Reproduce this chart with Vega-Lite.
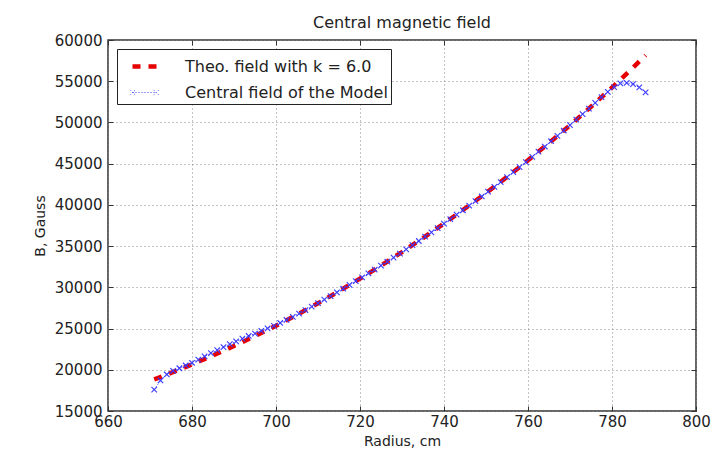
{
  "$schema": "https://vega.github.io/schema/vega-lite/v6.json",
  "width": 588,
  "height": 371,
  "autosize": {"type": "none"},
  "padding": {"left": 108, "top": 40, "right": 21, "bottom": 49},
  "background": "white",
  "title": {"text": "Central magnetic field", "fontSize": 16, "fontWeight": "normal", "color": "#222", "offset": 6, "dy": 4},
  "data": {
    "values": [
      {"series": "Theo. field with k = 6.0", "r": 671, "B": 18840},
      {"series": "Theo. field with k = 6.0", "r": 672, "B": 19030},
      {"series": "Theo. field with k = 6.0", "r": 675, "B": 19630},
      {"series": "Theo. field with k = 6.0", "r": 680, "B": 20650},
      {"series": "Theo. field with k = 6.0", "r": 685, "B": 21740},
      {"series": "Theo. field with k = 6.0", "r": 690, "B": 22890},
      {"series": "Theo. field with k = 6.0", "r": 695, "B": 24090},
      {"series": "Theo. field with k = 6.0", "r": 700, "B": 25340},
      {"series": "Theo. field with k = 6.0", "r": 705, "B": 26670},
      {"series": "Theo. field with k = 6.0", "r": 710, "B": 28070},
      {"series": "Theo. field with k = 6.0", "r": 715, "B": 29530},
      {"series": "Theo. field with k = 6.0", "r": 720, "B": 31060},
      {"series": "Theo. field with k = 6.0", "r": 725, "B": 32640},
      {"series": "Theo. field with k = 6.0", "r": 730, "B": 34280},
      {"series": "Theo. field with k = 6.0", "r": 735, "B": 35980},
      {"series": "Theo. field with k = 6.0", "r": 740, "B": 37740},
      {"series": "Theo. field with k = 6.0", "r": 745, "B": 39560},
      {"series": "Theo. field with k = 6.0", "r": 750, "B": 41440},
      {"series": "Theo. field with k = 6.0", "r": 755, "B": 43390},
      {"series": "Theo. field with k = 6.0", "r": 760, "B": 45410},
      {"series": "Theo. field with k = 6.0", "r": 765, "B": 47500},
      {"series": "Theo. field with k = 6.0", "r": 770, "B": 49660},
      {"series": "Theo. field with k = 6.0", "r": 775, "B": 51900},
      {"series": "Theo. field with k = 6.0", "r": 780, "B": 54230},
      {"series": "Theo. field with k = 6.0", "r": 785, "B": 56650},
      {"series": "Theo. field with k = 6.0", "r": 788, "B": 58150},
      {"series": "Central field of the Model", "r": 671.0, "B": 17600},
      {"series": "Central field of the Model", "r": 672.5, "B": 18700},
      {"series": "Central field of the Model", "r": 674.0, "B": 19430},
      {"series": "Central field of the Model", "r": 675.5, "B": 19880},
      {"series": "Central field of the Model", "r": 677.0, "B": 20185},
      {"series": "Central field of the Model", "r": 678.5, "B": 20520},
      {"series": "Central field of the Model", "r": 680.0, "B": 20850},
      {"series": "Central field of the Model", "r": 681.5, "B": 21240},
      {"series": "Central field of the Model", "r": 683.0, "B": 21620},
      {"series": "Central field of the Model", "r": 684.5, "B": 22010},
      {"series": "Central field of the Model", "r": 686.0, "B": 22380},
      {"series": "Central field of the Model", "r": 687.5, "B": 22745},
      {"series": "Central field of the Model", "r": 689.0, "B": 23110},
      {"series": "Central field of the Model", "r": 690.5, "B": 23450},
      {"series": "Central field of the Model", "r": 692.0, "B": 23780},
      {"series": "Central field of the Model", "r": 693.5, "B": 24100},
      {"series": "Central field of the Model", "r": 695.0, "B": 24390},
      {"series": "Central field of the Model", "r": 696.5, "B": 24705},
      {"series": "Central field of the Model", "r": 698.0, "B": 25010},
      {"series": "Central field of the Model", "r": 699.5, "B": 25325},
      {"series": "Central field of the Model", "r": 701.0, "B": 25675},
      {"series": "Central field of the Model", "r": 702.5, "B": 26040},
      {"series": "Central field of the Model", "r": 704.0, "B": 26420},
      {"series": "Central field of the Model", "r": 705.5, "B": 26805},
      {"series": "Central field of the Model", "r": 707.0, "B": 27230},
      {"series": "Central field of the Model", "r": 708.5, "B": 27650},
      {"series": "Central field of the Model", "r": 710.0, "B": 28070},
      {"series": "Central field of the Model", "r": 711.5, "B": 28500},
      {"series": "Central field of the Model", "r": 713.0, "B": 28940},
      {"series": "Central field of the Model", "r": 714.5, "B": 29380},
      {"series": "Central field of the Model", "r": 716.0, "B": 29830},
      {"series": "Central field of the Model", "r": 717.5, "B": 30290},
      {"series": "Central field of the Model", "r": 719.0, "B": 30750},
      {"series": "Central field of the Model", "r": 720.5, "B": 31210},
      {"series": "Central field of the Model", "r": 722.0, "B": 31690},
      {"series": "Central field of the Model", "r": 723.5, "B": 32160},
      {"series": "Central field of the Model", "r": 725.0, "B": 32630},
      {"series": "Central field of the Model", "r": 726.5, "B": 33120},
      {"series": "Central field of the Model", "r": 728.0, "B": 33610},
      {"series": "Central field of the Model", "r": 729.5, "B": 34100},
      {"series": "Central field of the Model", "r": 731.0, "B": 34600},
      {"series": "Central field of the Model", "r": 732.5, "B": 35110},
      {"series": "Central field of the Model", "r": 734.0, "B": 35620},
      {"series": "Central field of the Model", "r": 735.5, "B": 36140},
      {"series": "Central field of the Model", "r": 737.0, "B": 36670},
      {"series": "Central field of the Model", "r": 738.5, "B": 37190},
      {"series": "Central field of the Model", "r": 740.0, "B": 37720},
      {"series": "Central field of the Model", "r": 741.5, "B": 38260},
      {"series": "Central field of the Model", "r": 743.0, "B": 38810},
      {"series": "Central field of the Model", "r": 744.5, "B": 39350},
      {"series": "Central field of the Model", "r": 746.0, "B": 39900},
      {"series": "Central field of the Model", "r": 747.5, "B": 40460},
      {"series": "Central field of the Model", "r": 749.0, "B": 41020},
      {"series": "Central field of the Model", "r": 750.5, "B": 41600},
      {"series": "Central field of the Model", "r": 752.0, "B": 42180},
      {"series": "Central field of the Model", "r": 753.5, "B": 42770},
      {"series": "Central field of the Model", "r": 755.0, "B": 43360},
      {"series": "Central field of the Model", "r": 756.5, "B": 43970},
      {"series": "Central field of the Model", "r": 758.0, "B": 44580},
      {"series": "Central field of the Model", "r": 759.5, "B": 45190},
      {"series": "Central field of the Model", "r": 761.0, "B": 45820},
      {"series": "Central field of the Model", "r": 762.5, "B": 46450},
      {"series": "Central field of the Model", "r": 764.0, "B": 47080},
      {"series": "Central field of the Model", "r": 765.5, "B": 47720},
      {"series": "Central field of the Model", "r": 767.0, "B": 48370},
      {"series": "Central field of the Model", "r": 768.5, "B": 49020},
      {"series": "Central field of the Model", "r": 770.0, "B": 49670},
      {"series": "Central field of the Model", "r": 771.5, "B": 50340},
      {"series": "Central field of the Model", "r": 773.0, "B": 51010},
      {"series": "Central field of the Model", "r": 774.5, "B": 51680},
      {"series": "Central field of the Model", "r": 776.0, "B": 52380},
      {"series": "Central field of the Model", "r": 777.5, "B": 53080},
      {"series": "Central field of the Model", "r": 779.0, "B": 53720},
      {"series": "Central field of the Model", "r": 780.5, "B": 54280},
      {"series": "Central field of the Model", "r": 782.0, "B": 54740},
      {"series": "Central field of the Model", "r": 783.5, "B": 54800},
      {"series": "Central field of the Model", "r": 785.0, "B": 54640},
      {"series": "Central field of the Model", "r": 786.5, "B": 54250},
      {"series": "Central field of the Model", "r": 788.0, "B": 53650}
    ]
  },
  "resolve": {"axis": {"x": "independent", "y": "independent"}},
  "layer": [
    {
      "mark": {"type": "line", "clip": true},
      "encoding": {
        "x": {
          "field": "r", "type": "quantitative",
          "scale": {"domain": [660, 800], "nice": false, "zero": false},
          "axis": {
            "orient": "bottom",
            "values": [660, 680, 700, 720, 740, 760, 780, 800],
            "title": "Radius, cm",
            "grid": true
          }
        },
        "y": {
          "field": "B", "type": "quantitative",
          "scale": {"domain": [15000, 60000], "nice": false, "zero": false},
          "axis": {
            "orient": "left",
            "values": [15000, 20000, 25000, 30000, 35000, 40000, 45000, 50000, 55000, 60000],
            "format": "d",
            "title": "B, Gauss",
            "labelPadding": 11,
            "titlePadding": 7,
            "grid": true
          }
        },
        "color": {
          "field": "series", "type": "nominal",
          "scale": {"domain": ["Theo. field with k = 6.0", "Central field of the Model"], "range": ["#e60000", "#3a3aff"]},
          "legend": {
            "title": null, "orient": "top-left", "offset": 9, "padding": 3,
            "strokeColor": "#222", "fillColor": "white", "cornerRadius": 0,
            "labelFontSize": 16, "labelColor": "#222", "labelFont": "DejaVu Sans", "labelLimit": 400,
            "symbolType": "stroke", "symbolSize": 576, "symbolOffset": 10,
            "labelOffset": 26, "rowPadding": 4,
            "encode": {
              "symbols": {
                "update": {
                  "shape": {"signal": "datum.value === 'Central field of the Model' ? 'M-1,0L1,0M-1.2,-0.22L-0.76,0.22M-1.2,0.22L-0.76,-0.22M0.76,-0.22L1.2,0.22M0.76,0.22L1.2,-0.22' : 'stroke'"}
                }
              }
            }
          }
        },
        "strokeDash": {
          "field": "series", "type": "nominal",
          "scale": {"domain": ["Theo. field with k = 6.0", "Central field of the Model"], "range": [[8, 8], [1, 2]]},
          "legend": {"title": null}
        },
        "strokeWidth": {
          "field": "series", "type": "nominal",
          "scale": {"domain": ["Theo. field with k = 6.0", "Central field of the Model"], "range": [4.5, 1]},
          "legend": {"title": null}
        }
      }
    },
    {
      "transform": [{"filter": "datum.series === 'Central field of the Model'"}],
      "mark": {"type": "point", "shape": "M-1,-1L1,1M-1,1L1,-1", "filled": false, "size": 30, "strokeWidth": 1.1, "color": "#3a3aff", "opacity": 1},
      "encoding": {
        "x": {
          "field": "r", "type": "quantitative",
          "axis": {"orient": "top", "values": [660, 680, 700, 720, 740, 760, 780, 800], "labels": false, "title": null, "grid": false}
        },
        "y": {
          "field": "B", "type": "quantitative",
          "axis": {"orient": "right", "values": [15000, 20000, 25000, 30000, 35000, 40000, 45000, 50000, 55000, 60000], "labels": false, "title": null, "grid": false}
        }
      }
    }
  ],
  "config": {
    "font": "DejaVu Sans",
    "view": {"stroke": "#333", "strokeWidth": 1.5},
    "axis": {
      "labelFontSize": 15, "labelColor": "#222", "labelFont": "DejaVu Sans",
      "labelFlush": false, "labelOverlap": false, "labelPadding": 8,
      "tickSize": -5, "tickColor": "#333", "tickWidth": 1,
      "domain": false,
      "gridColor": "#888", "gridDash": [1, 3], "gridWidth": 1,
      "titleFontSize": 14, "titleFontWeight": "normal", "titleColor": "#222", "titleFont": "DejaVu Sans",
      "titlePadding": 5
    }
  }
}
